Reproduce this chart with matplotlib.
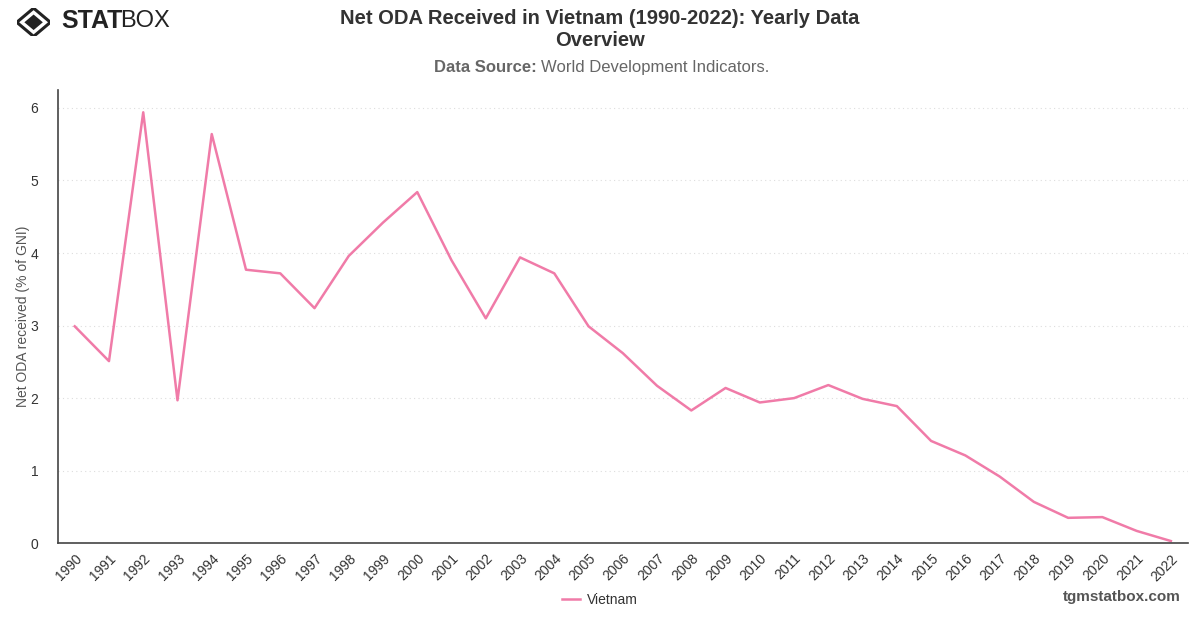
import matplotlib.pyplot as plt
from matplotlib.patches import Polygon

years = list(range(1990, 2023))
oda_pct_gni = [2.99, 2.51, 5.94, 1.97, 5.64, 3.77, 3.72, 3.24, 3.96, 4.42,
               4.84, 3.90, 3.10, 3.94, 3.72, 2.99, 2.62, 2.17, 1.83, 2.14,
               1.94, 2.00, 2.18, 1.99, 1.89, 1.41, 1.21, 0.92, 0.57, 0.35,
               0.36, 0.17, 0.03]
series_name = "Vietnam"

plt.rcParams["font.family"] = ["Liberation Sans", "DejaVu Sans"]

fig = plt.figure(figsize=(12, 6.28), dpi=100)
ax = fig.add_axes([0.048, 0.135, 0.942, 0.722])

ax.plot(years, oda_pct_gni, color="#f07ba8", lw=1.8, label=series_name)

ax.set_xlim(1989.5, 2022.5)
ax.set_ylim(0, 6.25)
ax.set_xticks(years)
ax.set_xticklabels([str(y) for y in years], rotation=45, ha="right",
                   rotation_mode="anchor", fontsize=10, color="#333333")
ax.set_yticks(range(0, 7))
ax.tick_params(axis="y", length=0, pad=14, labelsize=10, labelcolor="#333333")
ax.tick_params(axis="x", length=0, pad=6)
ax.grid(axis="y", color="#dddddd", ls=(0, (1, 3)), lw=0.8)
for s in ["top", "right"]:
    ax.spines[s].set_visible(False)
for s in ["left", "bottom"]:
    ax.spines[s].set_color("#444444")
    ax.spines[s].set_linewidth(1.2)
ax.set_ylabel("Net ODA received (% of GNI)", fontsize=10, color="#555555", labelpad=0)

ax.legend(loc="center", bbox_to_anchor=(0.5, 0.045), bbox_transform=fig.transFigure,
          frameon=False, fontsize=10, handlelength=1.3, handletextpad=0.5,
          labelcolor="#333333")

fig.text(0.5, 0.986, "Net ODA Received in Vietnam (1990-2022): Yearly Data\nOverview",
         ha="center", va="top", fontsize=14.5, fontweight="bold", color="#333333",
         linespacing=1.2)
fig.text(0.4475, 0.893, "Data Source:", ha="right", va="center", fontsize=12,
         fontweight="bold", color="#666666")
fig.text(0.451, 0.893, "World Development Indicators.", ha="left", va="center",
         fontsize=12, color="#666666")

# logo
logo = fig.add_axes([0.014, 0.942, 0.028, 0.045])
logo.set_xlim(-1, 1)
logo.set_ylim(-1, 1)
logo.axis("off")
logo.add_patch(Polygon([(0, 1), (1, 0), (0, -1), (-1, 0)], closed=True,
                       fc="none", ec="#222222", lw=2.2))
logo.add_patch(Polygon([(0, 0.55), (0.55, 0), (0, -0.55), (-0.55, 0)], closed=True,
                       fc="#222222", ec="none"))
fig.text(0.051, 0.966, "STAT", ha="left", va="center", fontsize=18,
         fontweight="heavy", color="#222222")
fig.text(0.1005, 0.966, "BOX", ha="left", va="center", fontsize=17,
         color="#222222")

fig.text(0.984, 0.049, "tgmstatbox.com", ha="right", va="center", fontsize=11,
         fontweight="bold", color="#555555")

fig.savefig("out.png", dpi=100)
